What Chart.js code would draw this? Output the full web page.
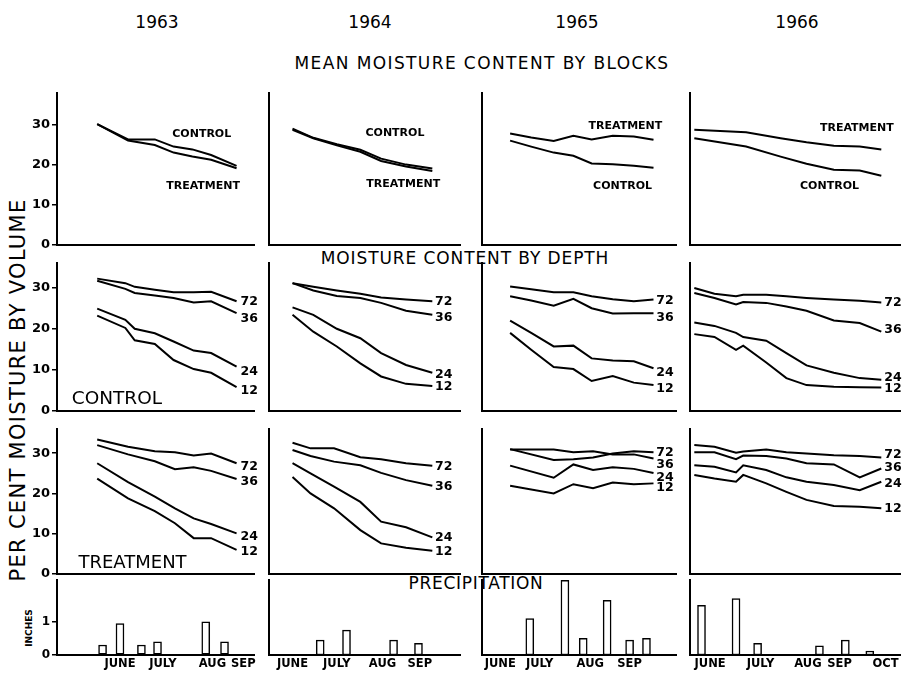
<!DOCTYPE html>
<html>
<head>
<meta charset="utf-8">
<script src="https://cdn.jsdelivr.net/npm/chart.js@4.4.0/dist/chart.umd.min.js"></script>
<style>
body { margin: 0; background: #fff; width: 903px; height: 673px; position: relative; overflow: hidden; font-family: 'DejaVu Sans', sans-serif; }
.box { position: absolute; }
.txt { position: absolute; white-space: nowrap; color: #000; transform: translate(-50%, -50%); }
.vert { transform: translate(-50%, -50%) rotate(-90deg); }
</style>
</head>
<body>
<div class="txt" style="left:157px;top:22px;font-size:17px">1963</div>
<div class="txt" style="left:370px;top:22px;font-size:17px">1964</div>
<div class="txt" style="left:577px;top:22px;font-size:17px">1965</div>
<div class="txt" style="left:797px;top:22px;font-size:17px">1966</div>
<div class="txt" style="left:482px;top:63px;font-size:17px;letter-spacing:1.4px">MEAN MOISTURE CONTENT BY BLOCKS</div>
<div class="txt" style="left:465px;top:258px;font-size:17px;letter-spacing:0.9px">MOISTURE CONTENT BY DEPTH</div>
<div class="txt" style="left:476px;top:583px;font-size:17px;letter-spacing:0.7px">PRECIPITATION</div>
<div class="txt vert" style="left:18px;top:390px;font-size:21px;letter-spacing:1.3px">PER CENT MOISTURE BY VOLUME</div>
<div class="txt vert" style="left:29px;top:628px;font-size:9px;font-weight:bold">INCHES</div>
<script>
// sampling dates are days after June 1, values are per cent moisture by volume
const yTicks = [0, 10, 20, 30];
const rainTicks = [0, 1];

// 1963
const blockDays63 = [-2, 21, 41, 55, 69, 83, 102];
const blockCtl63 = [30.2, 26.4, 26.4, 24.6, 23.9, 22.5, 19.8];
const blockTrt63 = [30.2, 26.1, 25.0, 23.1, 22.1, 21.3, 19.2];
const ctlDays63 = [-2, 19, 26, 41, 55, 70, 83, 102];
const c63_72 = [32.2, 31.1, 30.2, 29.5, 28.9, 28.9, 29.0, 26.7];
const c63_36 = [31.7, 29.7, 28.7, 28.1, 27.5, 26.4, 26.7, 23.8];
const c63_24 = [24.9, 22.2, 20.0, 18.9, 16.9, 14.7, 14.1, 10.8];
const c63_12 = [23.2, 20.2, 17.2, 16.3, 12.4, 10.2, 9.3, 5.8];
const trtDays63 = [-2, 21, 41, 56, 70, 83, 102];
const t63_72 = [33.4, 31.6, 30.5, 30.2, 29.4, 29.9, 27.5];
const t63_36 = [32.0, 29.7, 28.0, 26.0, 26.5, 25.6, 23.6];
const t63_24 = [27.5, 22.8, 19.2, 16.3, 13.8, 12.4, 10.1];
const t63_12 = [23.7, 18.8, 15.6, 12.6, 8.9, 8.9, 6.0];
const rainDays63 = [2, 15, 31, 43, 79, 93];
const rain63 = [0.3, 0.95, 0.3, 0.4, 1.0, 0.4];
const months63 = ['JUNE', 'JULY', 'AUG', 'SEP'];
const monthDays63 = [15, 47, 84, 107];

// 1964
const blockDays64 = [15, 30, 47, 64, 79, 97, 116];
const blockCtl64 = [29.1, 26.8, 25.2, 23.8, 21.6, 20.1, 19.1];
const blockTrt64 = [28.8, 26.7, 24.9, 23.3, 21.0, 19.6, 18.5];
const ctlDays64 = [15, 30, 47, 64, 79, 97, 116];
const c64_72 = [31.1, 30.2, 29.3, 28.5, 27.6, 27.1, 26.7];
const c64_36 = [31.1, 29.3, 28.0, 27.5, 26.3, 24.4, 23.4];
const c64_24 = [25.2, 23.4, 20.0, 17.7, 14.1, 11.2, 9.3];
const c64_12 = [23.4, 19.3, 15.7, 11.6, 8.4, 6.6, 6.1];
const trtDays64 = [15, 28, 45, 64, 79, 97, 116];
const t64_72 = [32.6, 31.2, 31.2, 29.0, 28.5, 27.5, 26.9];
const t64_36 = [30.8, 29.3, 27.9, 27.0, 25.1, 23.3, 21.9];
const t64_24 = [27.5, 25.0, 21.7, 17.9, 13.0, 11.6, 9.1];
const t64_12 = [24.1, 20.0, 16.3, 10.9, 7.6, 6.5, 5.8];
const rainDays64 = [35, 54, 88, 106];
const rain64 = [0.45, 0.75, 0.45, 0.35];
const months64 = ['JUNE', 'JULY', 'AUG', 'SEP'];
const monthDays64 = [15, 47, 80, 107];

// 1965
const blockDays65 = [22, 37, 53, 67, 80, 95, 110, 124];
const blockTrt65 = [27.9, 26.9, 26.0, 27.3, 26.4, 27.3, 27.1, 26.3];
const blockCtl65 = [26.1, 24.6, 23.1, 22.3, 20.4, 20.2, 19.8, 19.3];
const ctlDays65 = [22, 37, 53, 67, 80, 95, 110, 124];
const c65_72 = [30.3, 29.6, 28.9, 28.9, 27.9, 27.2, 26.7, 27.1];
const c65_36 = [27.9, 26.9, 25.6, 27.3, 25.0, 23.7, 23.8, 23.8];
const c65_24 = [22.0, 19.0, 15.7, 15.9, 12.8, 12.3, 12.1, 10.4];
const c65_12 = [19.0, 14.9, 10.7, 10.2, 7.3, 8.5, 6.9, 6.3];
const trtDays65 = [22, 53, 67, 81, 95, 110, 124];
const t65_72 = [31.0, 28.3, 28.5, 28.9, 29.9, 30.5, 30.2];
const t65_36 = [30.9, 30.9, 30.2, 30.5, 29.7, 29.7, 28.7];
const t65_24 = [26.9, 23.9, 27.2, 25.8, 26.5, 26.1, 25.1];
const t65_12 = [21.9, 20.0, 22.3, 21.3, 22.7, 22.3, 22.5];
const rainDays65 = [36, 61, 74, 91, 107, 119];
const rain65 = [1.1, 2.25, 0.5, 1.65, 0.45, 0.5];
const months65 = ['JUNE', 'JULY', 'AUG', 'SEP'];
const monthDays65 = [15, 43, 79, 107];

// 1966
const blockDays66 = [4, 40, 64, 82, 101, 119, 134];
const blockTrt66 = [28.8, 28.2, 26.7, 25.7, 24.8, 24.6, 23.9];
const blockCtl66 = [26.7, 24.6, 22.1, 20.3, 18.8, 18.6, 17.3];
const depthDays66 = [4, 18, 33, 38, 54, 68, 82, 101, 119, 134];
const c66_72 = [29.9, 28.5, 27.9, 28.3, 28.3, 27.9, 27.5, 27.1, 26.8, 26.4];
const c66_36 = [28.7, 27.5, 25.9, 26.5, 26.3, 25.4, 24.4, 22.0, 21.4, 19.3];
const c66_24 = [21.5, 20.7, 19.0, 18.0, 17.1, 14.1, 11.1, 9.3, 8.0, 7.6];
const c66_12 = [18.7, 18.0, 14.9, 15.9, 11.8, 8.0, 6.3, 5.9, 5.8, 5.7];
const t66_72 = [32.0, 31.6, 30.1, 30.4, 30.9, 30.2, 29.9, 29.5, 29.3, 28.9];
const t66_36 = [30.2, 30.2, 28.5, 29.4, 29.3, 28.7, 27.5, 27.2, 24.0, 26.2];
const t66_24 = [27.0, 26.6, 25.2, 27.0, 25.8, 24.0, 22.9, 22.1, 20.8, 22.9];
const t66_12 = [24.6, 23.7, 22.9, 24.6, 22.5, 20.4, 18.4, 16.9, 16.7, 16.3];
const rainDays66 = [9, 33, 48, 91, 109, 126];
const rain66 = [1.5, 1.7, 0.35, 0.28, 0.45, 0.12];
const months66 = ['JUNE', 'JULY', 'AUG', 'SEP', 'OCT'];
const monthDays66 = [15, 50, 83, 105, 137];

// panel frames (page pixels) and axis ranges
const cols = [
    { left: 57, right: 254, min: -32, max: 115 },
    { left: 269, right: 460, min: -2, max: 136 },
    { left: 482, right: 676, min: 2, max: 140 },
    { left: 690, right: 900, min: 1, max: 147 }
];
const rows = [
    { top: 93, bottom: 245, max: 38 },
    { top: 263, bottom: 411, max: 36 },
    { top: 429, bottom: 574, max: 36 },
    { top: 580, bottom: 655, max: 2.26 }
];

function line(days, vals) {
    return {
        type: 'line',
        data: days.map((d, i) => ({ x: d, y: vals[i] })),
        borderColor: '#000',
        borderWidth: 2,
        pointRadius: 0,
        tension: 0,
        fill: false
    };
}

function bars(days, vals) {
    return {
        type: 'bar',
        data: days.map((d, i) => ({ x: d, y: vals[i] })),
        backgroundColor: '#fff',
        borderColor: '#000',
        borderWidth: 1.5,
        borderSkipped: false,
        barThickness: 8
    };
}

function marksPlugin(marks) {
    return {
        id: 'marks',
        afterDatasetsDraw(chart) {
            const { ctx, scales: { x, y } } = chart;
            ctx.save();
            ctx.fillStyle = '#000';
            ctx.textBaseline = 'middle';
            marks.forEach(m => {
                ctx.font = (m.bold ? 'bold ' : '') + (m.size || 12) + 'px "DejaVu Sans"';
                ctx.textAlign = m.align || 'left';
                ctx.fillText(m.text, x.getPixelForValue(m.x), y.getPixelForValue(m.y));
            });
            ctx.restore();
        }
    };
}

function depthMarks(x, ys) {
    return ['72', '36', '24', '12'].map((t, i) => ({ text: t, x: x, y: ys[i], size: 12.5, bold: true }));
}

function makePanel(ci, ri, datasets, marks, months, monthDays) {
    const c = cols[ci], r = rows[ri];
    const padL = ci === 0 ? 42 : 4;
    const padR = 14, padT = 10;
    const padB = ri === 3 ? 20 : 12;
    const w = c.right - c.left + padL + padR;
    const h = r.bottom - r.top + padT + padB;
    const box = document.createElement('div');
    box.className = 'box';
    box.style.left = (c.left - padL) + 'px';
    box.style.top = (r.top - padT) + 'px';
    const cv = document.createElement('canvas');
    cv.width = w;
    cv.height = h;
    box.appendChild(cv);
    document.body.appendChild(box);

    const isRain = ri === 3;
    const leftTicks = isRain ? rainTicks : yTicks;

    new Chart(cv, {
        type: isRain ? 'bar' : 'line',
        data: { datasets: datasets },
        options: {
            responsive: false,
            animation: false,
            events: [],
            layout: { padding: { left: 0, right: padR, top: padT, bottom: 0 } },
            plugins: { legend: { display: false }, tooltip: { enabled: false } },
            scales: {
                x: {
                    type: 'linear',
                    min: c.min,
                    max: c.max,
                    offset: false,
                    grid: { display: false },
                    border: { display: true, color: '#000', width: 2 },
                    ticks: {
                        display: isRain,
                        color: '#000',
                        padding: -6,
                        maxRotation: 0,
                        autoSkip: false,
                        font: { family: 'DejaVu Sans', size: 11.5, weight: 'bold' },
                        callback: (v, i) => months ? months[i] : ''
                    },
                    afterBuildTicks: s => {
                        if (monthDays) s.ticks = monthDays.map(v => ({ value: v }));
                    },
                    afterFit: s => { s.height = padB; }
                },
                y: {
                    min: 0,
                    max: r.max,
                    grid: {
                        display: ci === 0,
                        drawOnChartArea: false,
                        drawTicks: true,
                        tickLength: 5,
                        color: '#000',
                        lineWidth: 1.5
                    },
                    border: { display: true, color: '#000', width: 2 },
                    ticks: {
                        display: ci === 0,
                        color: '#000',
                        padding: 2,
                        font: { family: 'DejaVu Sans', size: isRain ? 12 : 13, weight: 'bold' }
                    },
                    afterBuildTicks: s => { s.ticks = leftTicks.map(v => ({ value: v })); },
                    afterFit: s => { s.width = padL; }
                }
            }
        },
        plugins: [marksPlugin(marks)]
    });
}

// row 1: mean moisture content by blocks
makePanel(0, 0, [line(blockDays63, blockCtl63), line(blockDays63, blockTrt63)], [
    { text: 'CONTROL', x: 76, y: 27.7, align: 'center', size: 11, bold: true },
    { text: 'TREATMENT', x: 77, y: 14.8, align: 'center', size: 11, bold: true }
]);
makePanel(1, 0, [line(blockDays64, blockCtl64), line(blockDays64, blockTrt64)], [
    { text: 'CONTROL', x: 89, y: 27.9, align: 'center', size: 11, bold: true },
    { text: 'TREATMENT', x: 95, y: 15.2, align: 'center', size: 11, bold: true }
]);
makePanel(2, 0, [line(blockDays65, blockTrt65), line(blockDays65, blockCtl65)], [
    { text: 'TREATMENT', x: 104, y: 29.6, align: 'center', size: 11, bold: true },
    { text: 'CONTROL', x: 102, y: 14.8, align: 'center', size: 11, bold: true }
]);
makePanel(3, 0, [line(blockDays66, blockTrt66), line(blockDays66, blockCtl66)], [
    { text: 'TREATMENT', x: 117, y: 29.3, align: 'center', size: 11, bold: true },
    { text: 'CONTROL', x: 98, y: 14.6, align: 'center', size: 11, bold: true }
]);

// row 2: control plots by depth (inches)
makePanel(0, 1, [line(ctlDays63, c63_72), line(ctlDays63, c63_36), line(ctlDays63, c63_24), line(ctlDays63, c63_12)],
    depthMarks(105, [26.5, 22.4, 9.6, 5.0]).concat([{ text: 'CONTROL', x: -21, y: 2.8, size: 18.5 }]));
makePanel(1, 1, [line(ctlDays64, c64_72), line(ctlDays64, c64_36), line(ctlDays64, c64_24), line(ctlDays64, c64_12)],
    depthMarks(118, [26.5, 22.8, 8.9, 5.9]));
makePanel(2, 1, [line(ctlDays65, c65_72), line(ctlDays65, c65_36), line(ctlDays65, c65_24), line(ctlDays65, c65_12)],
    depthMarks(126, [26.9, 22.8, 9.2, 5.3]));
makePanel(3, 1, [line(depthDays66, c66_72), line(depthDays66, c66_36), line(depthDays66, c66_24), line(depthDays66, c66_12)],
    depthMarks(136, [26.3, 19.8, 8.0, 5.4]));

// row 3: treatment plots by depth (inches)
makePanel(0, 2, [line(trtDays63, t63_72), line(trtDays63, t63_36), line(trtDays63, t63_24), line(trtDays63, t63_12)],
    depthMarks(105, [26.6, 22.9, 9.3, 5.5]).concat([{ text: 'TREATMENT', x: -16, y: 2.6, size: 18 }]));
makePanel(1, 2, [line(trtDays64, t64_72), line(trtDays64, t64_36), line(trtDays64, t64_24), line(trtDays64, t64_12)],
    depthMarks(118, [26.6, 21.7, 8.9, 5.5]));
makePanel(2, 2, [line(trtDays65, t65_72), line(trtDays65, t65_36), line(trtDays65, t65_24), line(trtDays65, t65_12)],
    depthMarks(126, [30.2, 27.2, 24.0, 21.3]));
makePanel(3, 2, [line(depthDays66, t66_72), line(depthDays66, t66_36), line(depthDays66, t66_24), line(depthDays66, t66_12)],
    depthMarks(136, [29.6, 26.5, 22.5, 16.3]));

// row 4: precipitation
makePanel(0, 3, [bars(rainDays63, rain63)], [], months63, monthDays63);
makePanel(1, 3, [bars(rainDays64, rain64)], [], months64, monthDays64);
makePanel(2, 3, [bars(rainDays65, rain65)], [], months65, monthDays65);
makePanel(3, 3, [bars(rainDays66, rain66)], [], months66, monthDays66);
</script>
</body>
</html>
